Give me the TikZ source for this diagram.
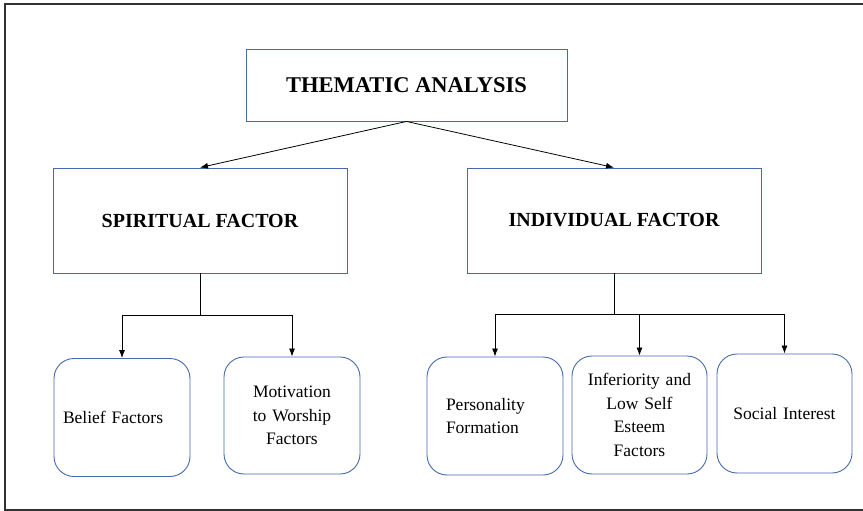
\documentclass[tikz,border=0pt]{standalone}
\usepackage{fontspec}
\setmainfont{Liberation Serif}
\usetikzlibrary{arrows.meta}
\definecolor{boxblue}{RGB}{68,106,172}
\definecolor{framegray}{RGB}{50,50,50}
\begin{document}
\begin{tikzpicture}[x=1pt,y=-1pt,>={Latex[length=8pt,width=6pt]}]

    \tikzset{
      headbox/.style={
        draw=boxblue,
        line width=0.9pt,
        inner sep=0pt,
        font=\fontsize{20}{23}\selectfont\bfseries,
      },
      leafbox/.style={
        draw=boxblue,
        line width=0.9pt,
        rounded corners=20pt,
        minimum height=118pt,
        inner ysep=0pt,
        font=\fontsize{17.5}{23.5}\selectfont,
      },
      link/.style={
        draw=black,
        line width=0.8pt,
      },
    }
    \useasboundingbox (0,0) rectangle (863,511);

	% outer frame
	\draw[color=framegray,line width=1.6pt] (863,4)--(5,4)--(5,510)--(863,510);

	% top level
	\node[headbox,minimum width=321pt,minimum height=72pt,font=\fontsize{22.5}{25}\selectfont\bfseries] (theme) at (406.5,85) {THEMATIC ANALYSIS};

	% second level
	\node[headbox,minimum width=294pt,minimum height=105pt] (spirit) at (200,220.5) {SPIRITUAL FACTOR};
	\node[headbox,minimum width=294pt,minimum height=105pt] (indiv) at (614,220.5) {INDIVIDUAL FACTOR};

	% leaves
	\node[leafbox,text width=118pt,inner xsep=9pt,align=left] (belief) at (122,417.5) {Belief Factors};
	\node[leafbox,text width=120pt,inner xsep=8pt,align=center,minimum height=117pt] (motiv) at (292,415.5) {Motivation\\to Worship\\Factors};
	\node[leafbox,text width=98pt,inner xsep=19pt,align=left] (person) at (495,416) {Personality\\Formation};
	\node[leafbox,text width=119pt,inner xsep=8pt,align=center] (infer) at (639.5,415) {Inferiority and\\Low Self\\Esteem\\Factors};
	\node[leafbox,text width=119pt,inner xsep=8pt,align=center,minimum height=119pt] (social) at (784.5,413.5) {Social Interest};

	% connectors
	\draw[link,->] (theme.south)--(spirit.north);
	\draw[link,->] (theme.south)--(indiv.north);
	\draw[link] (spirit.south)--++(0,42) coordinate (sfork);
	\draw[link,->] (sfork)-|(belief.north);
	\draw[link,->] (sfork)-|(motiv.north);
	\draw[link] (indiv.south)--++(0,41) coordinate (ifork);
	\draw[link,->] (ifork)-|(person.north);
	\draw[link,->] (ifork)-|(infer.north);
	\draw[link,->] (ifork)-|(social.north);

\end{tikzpicture}
\end{document}
